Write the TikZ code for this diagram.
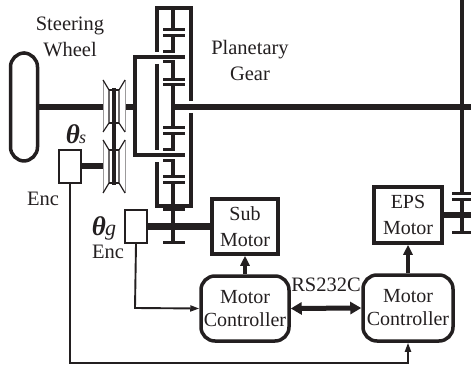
\documentclass[tikz,border=0pt]{standalone}
\usepackage{fontspec}
\setmainfont{Liberation Serif}
\usetikzlibrary{arrows.meta}
\definecolor{ink}{HTML}{231F20}
\tikzset{
  x=1pt,y=-1pt,
  ring/.style={line width=3.5pt},
  gearbar/.style={line width=3pt},
  shaft/.style={line width=6.5pt},
  thin box/.style={rectangle,draw=ink,line width=2.2pt,fill=white,inner sep=0pt},
  motorbox/.style={rectangle,draw=ink,line width=3.5pt,fill=white,inner sep=0pt,align=center,font=\fontsize{20}{26}\selectfont,text=ink},
  ctrlbox/.style={rectangle,rounded corners=14pt,draw=ink,line width=3.5pt,fill=white,inner sep=0pt,align=center,font=\fontsize{20}{23}\selectfont,text=ink},
  label/.style={inner sep=0pt,align=center,font=\fontsize{20.5}{26}\selectfont,text=ink},
  theta/.style={inner sep=0pt,text=ink,font=\fontsize{27}{27}\selectfont\bfseries\itshape},
  signal/.style={line width=1.9pt,-{Triangle[length=9pt,width=6pt]}},
  power/.style={line width=3.2pt,-{Triangle[length=10pt,width=9pt]}},
  bus/.style={line width=5pt,{Triangle[length=11pt,width=12pt]}-{Triangle[length=11pt,width=12pt]}},
  pulley/.style={line width=1.2pt},
  pulleyrim/.style={draw=ink!45,line width=1pt},
}
\begin{document}
\begin{tikzpicture}[color=ink]
\useasboundingbox (0,0) rectangle (471,366);
% shafts
\draw[shaft] (38,107) -- (103,107);
\draw[shaft] (125,107) -- (136,107);
\draw[shaft] (173,107) -- (471,107);
\draw[shaft] (81,166) -- (103,166);
% wheel
\node[rectangle,rounded corners=14pt,draw=ink,line width=3.5pt,minimum width=27pt,minimum height=108pt,inner sep=0pt] (wheel) at (24,107) {};
% carrier
\draw[ring] (185,57) -- (135,57) -- (135,155) -- (185,155);
% ring gear
\draw[ring] (157,52) -- (157,8) -- (191,8) -- (191,101);
\draw[ring] (157,64) -- (157,150);
\draw[ring] (191,113) -- (191,206) -- (157,206) -- (157,162);
% planets
\foreach \a/\b/\c/\d/\e in {8/30/36/52/0, 62/80/85/107/0, 107/128/134/150/0, 161/177/183/206/0}{
  \draw[ring] (173,\a) -- (173,\b);
  \draw[ring] (173,\c) -- (173,\d);
  \draw[gearbar] (163,\b) -- (185,\b);
  \draw[gearbar] (163,\c) -- (185,\c);
}
\draw[gearbar] (163,52) -- (175,52);
\draw[gearbar] (163,62) -- (175,62);
\draw[gearbar] (163,150) -- (175,150);
\draw[gearbar] (163,161) -- (175,161);
% sub-motor gear
\draw[gearbar] (163,210) -- (185,210);
\draw[gearbar] (163,242) -- (185,242);
% pulleys
\foreach \t/\i/\j/\b in {80/90/123/132, 140/150/183/193}{
  \draw[pulleyrim] (103,\t) -- (103,\b);
  \draw[pulleyrim] (125,\t) -- (125,\b);
  \draw[pulley] (103,\t) -- (109,\i) -- (109,\j) -- (103,\b);
  \draw[pulley] (125,\t) -- (119,\i) -- (119,\j) -- (125,\b);
  \draw[pulley] (109,\i) -- (119,\i);
  \draw[pulley] (109,\j) -- (119,\j);
}
\draw[line width=4.5pt] (114,88) -- (114,185);
% encoders
\node[thin box,minimum width=22pt,minimum height=33pt] (encs) at (70,166.5) {};
\node[thin box,minimum width=22pt,minimum height=33pt] (encg) at (136,226.5) {};
% motors
\node[motorbox,minimum width=66pt,minimum height=55pt] (sub) at (245,226.5) {Sub\\Motor};
\node[motorbox,minimum width=68pt,minimum height=56pt] (eps) at (408,215) {EPS\\Motor};
\draw[shaft] (encg) -- (sub);
\draw[ring] (173,210) -- (173,242);
\draw[shaft] (eps.east) -- (471,215);
% controllers
\node[ctrlbox,minimum width=88pt,minimum height=65pt] (mc1) at (245,308.5) {Motor\\Controller};
\node[ctrlbox,minimum width=90pt,minimum height=66pt] (mc2) at (408,308) {Motor\\Controller};
% steering rack gear
\draw[ring] (462,0) -- (462,194);
\draw[ring] (462,200) -- (462,232);
\draw[gearbar] (452,194) -- (471,194);
\draw[gearbar] (452,200) -- (471,200);
\draw[gearbar] (452,232) -- (471,232);
% signals
\draw[power] (mc1.north) -- (sub.south);
\draw[power] (mc2.north) -- (eps.south);
\draw[bus] (mc1.east) -- (mc2.west);
\coordinate (g1) at (135,308);
\draw[signal] (encg.south) -- (g1) -- (mc1.west);
\coordinate (s1) at (70,363);
\coordinate (s2) at (408,363);
\draw[signal] (encs.south) -- (s1) -- (s2) -- (mc2.south);
% labels
\node[label] (lsw) at (70,37) {Steering\\Wheel};
\node[label] (lpg) at (250,60) {Planetary\\Gear};
\node[label] (lrs) at (326,285) {RS232C};
\node[label] (lenc1) at (43,199) {Enc};
\node[label] (lenc2) at (108,252) {Enc};
\node[theta,anchor=base] (ths) at (76,144) {θ\kern-1pt{\fontsize{18}{18}\selectfont\mdseries s}};
\node[theta,anchor=base] (thg) at (104,236) {θ\kern-1pt{\fontsize{22}{22}\selectfont\mdseries g}};
\end{tikzpicture}
\end{document}
